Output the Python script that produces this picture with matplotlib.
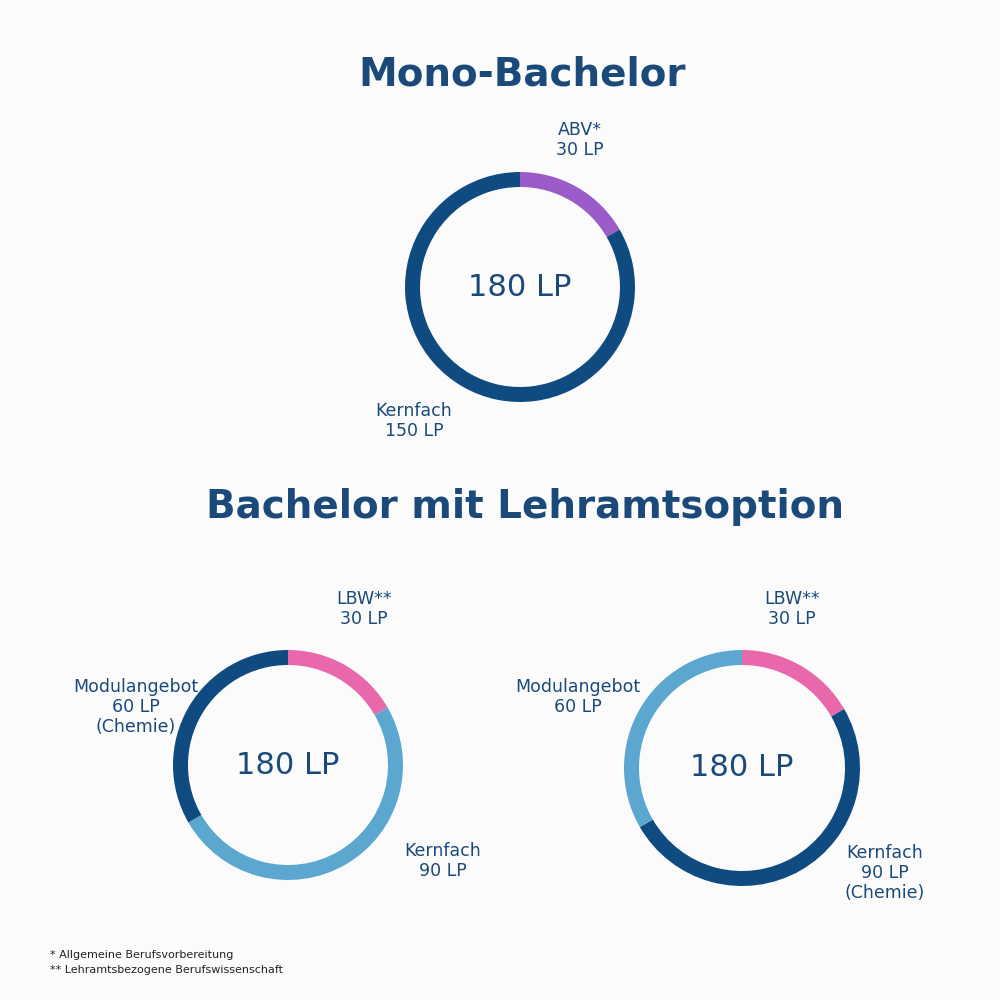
import matplotlib.pyplot as plt

# data
mono_labels = ["ABV*", "Kernfach"]
mono_values = [30, 150]
left_labels = ["LBW**", "Kernfach", "Modulangebot"]
left_values = [30, 90, 60]
right_labels = ["LBW**", "Kernfach", "Modulangebot"]
right_values = [30, 90, 60]

NAVY = "#0f4b80"
LIGHT = "#5ba7d0"
PINK = "#e967ab"
PURPLE = "#9b5cc9"
TEXT = "#1b4a7a"

fig = plt.figure(figsize=(10, 10), dpi=100, facecolor="#fbfbfb")
ax = fig.add_axes([0, 0, 1, 1])
ax.axis("off")


def donut(values, colors, cx, cy, r):
    ax.pie(values, colors=colors, center=(cx, 1000 - cy), radius=r,
           startangle=90, counterclock=False,
           wedgeprops=dict(width=15, edgecolor="none"))
    ax.text(cx, 1000 - cy, "180 LP", ha="center", va="center", fontsize=22, color=TEXT)


def label(x, y, text):
    ax.text(x, 1000 - y, text, ha="center", va="center", fontsize=12.5,
            color=TEXT, linespacing=1.15)


ax.text(522, 1000 - 75, "Mono-Bachelor", ha="center", va="center",
        fontsize=28, fontweight="bold", color=TEXT)
ax.text(525, 1000 - 507, "Bachelor mit Lehramtsoption", ha="center", va="center",
        fontsize=28, fontweight="bold", color=TEXT)

donut(mono_values, [PURPLE, NAVY], 520, 287, 115)
label(580, 140, f"{mono_labels[0]}\n{mono_values[0]} LP")
label(414, 421, f"{mono_labels[1]}\n{mono_values[1]} LP")

donut(left_values, [PINK, LIGHT, NAVY], 288, 765, 115)
label(364, 609, f"{left_labels[0]}\n{left_values[0]} LP")
label(443, 861, f"{left_labels[1]}\n{left_values[1]} LP")
label(136, 707, f"{left_labels[2]}\n{left_values[2]} LP\n(Chemie)")

donut(right_values, [PINK, NAVY, LIGHT], 742, 768, 118)
label(792, 609, f"{right_labels[0]}\n{right_values[0]} LP")
label(885, 873, f"{right_labels[1]}\n{right_values[1]} LP\n(Chemie)")
label(578, 697, f"{right_labels[2]}\n{right_values[2]} LP")

ax.text(50, 1000 - 955, "* Allgemeine Berufsvorbereitung", ha="left", va="center",
        fontsize=8, color="#222222")
ax.text(50, 1000 - 970, "** Lehramtsbezogene Berufswissenschaft", ha="left", va="center",
        fontsize=8, color="#222222")

ax.set_xlim(0, 1000)
ax.set_ylim(0, 1000)
ax.set_aspect("equal")
ax.axis("off")

fig.savefig("out.png", dpi=100, facecolor=fig.get_facecolor())
